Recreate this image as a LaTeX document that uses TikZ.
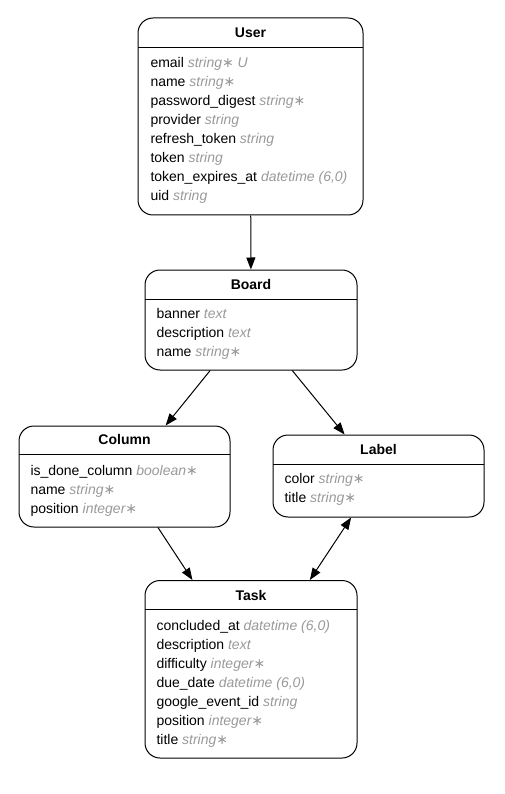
\documentclass[tikz,border=0pt]{standalone}
\usepackage{fontspec}
\setmainfont{Liberation Sans}
\newfontfamily\astfont{DejaVu Sans}
\usepackage{xcolor}
\usetikzlibrary{arrows.meta}

\definecolor{attrgray}{RGB}{153,153,153}
\newcommand{\attrtype}[1]{{\color{attrgray}\itshape #1}}
\newcommand{\req}{{\astfont\upshape ∗}}

\begin{document}
\begin{tikzpicture}[x=1pt, y=-1pt, line width=1pt,
    entity/.style={draw, rounded corners=15pt, inner sep=0pt},
    entitytitle/.style={anchor=base, inner sep=0pt, font=\fontsize{14}{17}\selectfont\bfseries},
    attrrow/.style={anchor=base west, inner sep=0pt, font=\fontsize{14}{17}\selectfont},
    >={Triangle[length=12pt, width=9pt]}]
    \useasboundingbox (0,0) rectangle (504,794);

    % User
    \node[entity, minimum width=225pt, minimum height=197pt] (user) at (250.5,116.5) {};
    \draw (138,48) -- (363,48);
    \node[entitytitle] (user title) at (250.5,37.5) {User};
    \foreach \fname/\ftype [count=\i from 0] in {email/{string\req\ U}, name/{string\req},
        password\_digest/{string\req}, provider/string, refresh\_token/string, token/string,
        token\_expires\_at/{datetime (6,0)}, uid/string} {
        \node[attrrow] (user row \i) at (150, 68+19*\i) {\fname\ \attrtype{\ftype}};
    }

    % Board
    \node[entity, minimum width=212pt, minimum height=100pt] (board) at (251,320) {};
    \draw (145,299) -- (357,299);
    \node[entitytitle] (board title) at (251,289) {Board};
    \foreach \fname/\ftype [count=\i from 0] in {banner/text, description/text, name/{string\req}} {
        \node[attrrow] (board row \i) at (156, 318+19*\i) {\fname\ \attrtype{\ftype}};
    }

    % Column
    \node[entity, minimum width=211pt, minimum height=101pt] (column) at (124.5,476.5) {};
    \draw (19,454) -- (230,454);
    \node[entitytitle] (column title) at (124.5,444) {Column};
    \foreach \fname/\ftype [count=\i from 0] in {is\_done\_column/{boolean\req},
        name/{string\req}, position/{integer\req}} {
        \node[attrrow] (column row \i) at (30, 475+19*\i) {\fname\ \attrtype{\ftype}};
    }

    % Label
    \node[entity, minimum width=211pt, minimum height=82pt] (label) at (378.5,476) {};
    \draw (273,464) -- (484,464);
    \node[entitytitle] (label title) at (378.5,454) {Label};
    \foreach \fname/\ftype [count=\i from 0] in {color/{string\req}, title/{string\req}} {
        \node[attrrow] (label row \i) at (284, 483.5+19*\i) {\fname\ \attrtype{\ftype}};
    }

    % Task
    \node[entity, minimum width=212pt, minimum height=177.5pt] (task) at (251,669.25) {};
    \draw (145,609) -- (357,609);
    \node[entitytitle] (task title) at (251,600) {Task};
    \foreach \fname/\ftype [count=\i from 0] in {concluded\_at/{datetime (6,0)}, description/text,
        difficulty/{integer\req}, due\_date/{datetime (6,0)}, google\_event\_id/string,
        position/{integer\req}, title/{string\req}} {
        \node[attrrow] (task row \i) at (156, 630+19*\i) {\fname\ \attrtype{\ftype}};
    }

    % relations
    \draw[->] (user) -- (board);
    \draw[->] (board) -- (column);
    \draw[->] (board) -- (label);
    \draw[->] (column) -- (task);
    \draw[<->] (label) -- (task);
\end{tikzpicture}
\end{document}
